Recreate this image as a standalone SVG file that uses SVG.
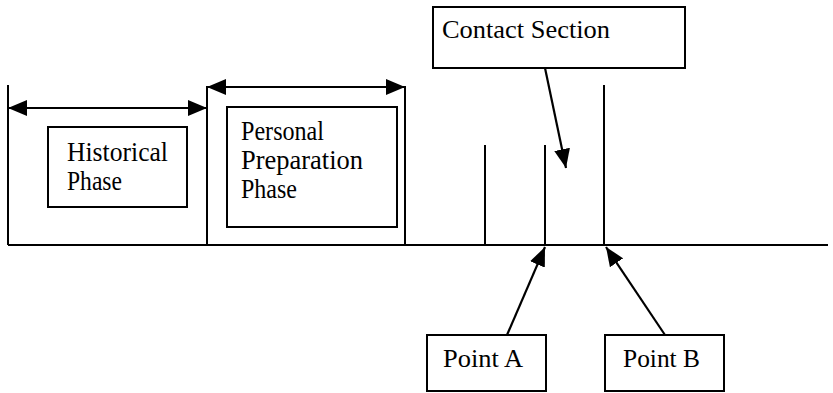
<svg xmlns="http://www.w3.org/2000/svg" width="833" height="393" viewBox="0 0 833 393">
<style>
.ln{stroke:#000;stroke-width:2;fill:none}
.bx{stroke:#000;stroke-width:2;fill:#fff}
.ar{stroke:#000;stroke-width:2.2;fill:none;marker-end:url(#ah)}
.dar{stroke:#000;stroke-width:2.2;fill:none;marker-end:url(#ah);marker-start:url(#ah)}
.t{font-family:'Liberation Serif','DejaVu Serif',serif;font-size:27px;fill:#000}
.s{font-size:25px}
</style>
<defs>
<marker id="ah" markerUnits="userSpaceOnUse" markerWidth="20" markerHeight="16" refX="19" refY="8" orient="auto-start-reverse">
<path d="M0,0 L19,8 L0,16 z" fill="#000"/>
</marker>
</defs>
<g id="structure">
<line class="ln" x1="8" y1="245" x2="828" y2="245"/>
<line class="ln" x1="8" y1="85" x2="8" y2="245"/>
<line class="ln" x1="207" y1="86" x2="207" y2="245"/>
<line class="ln" x1="405" y1="86" x2="405" y2="245"/>
<line class="ln" x1="485" y1="145" x2="485" y2="245"/>
<line class="ln" x1="545" y1="145" x2="545" y2="245"/>
<line class="ln" x1="604" y1="85" x2="604" y2="245"/>
</g>
<g id="historical">
<rect class="bx" x="48" y="127" width="139" height="80"/>
<text class="t" x="67" y="161" textLength="101" lengthAdjust="spacingAndGlyphs">Historical</text>
<text class="t" x="67" y="190" textLength="55" lengthAdjust="spacingAndGlyphs">Phase</text>
</g>
<g id="personal">
<rect class="bx" x="227" y="107" width="170" height="120"/>
<text class="t" x="241" y="140" textLength="83" lengthAdjust="spacingAndGlyphs">Personal</text>
<text class="t" x="241" y="169" textLength="122" lengthAdjust="spacingAndGlyphs">Preparation</text>
<text class="t" x="241" y="198" textLength="56" lengthAdjust="spacingAndGlyphs">Phase</text>
</g>
<g id="contact">
<rect class="bx" x="433" y="7" width="252" height="61"/>
<text class="t s" x="442" y="38" textLength="168" lengthAdjust="spacingAndGlyphs">Contact Section</text>
</g>
<g id="pointA">
<rect class="bx" x="427" y="335" width="119" height="56"/>
<text class="t s" x="443" y="367" textLength="80" lengthAdjust="spacingAndGlyphs">Point A</text>
</g>
<g id="pointB">
<rect class="bx" x="605" y="335" width="119" height="56"/>
<text class="t s" x="623" y="367" textLength="77" lengthAdjust="spacingAndGlyphs">Point B</text>
</g>
<g id="connectors">
<line class="dar" x1="8" y1="108" x2="207" y2="108"/>
<line class="dar" x1="207" y1="87" x2="405" y2="87"/>
<line class="ar" x1="545" y1="68" x2="566" y2="168"/>
<line class="ar" x1="507" y1="335" x2="545" y2="247"/>
<line class="ar" x1="665" y1="335" x2="606" y2="247"/>
</g>
</svg>
